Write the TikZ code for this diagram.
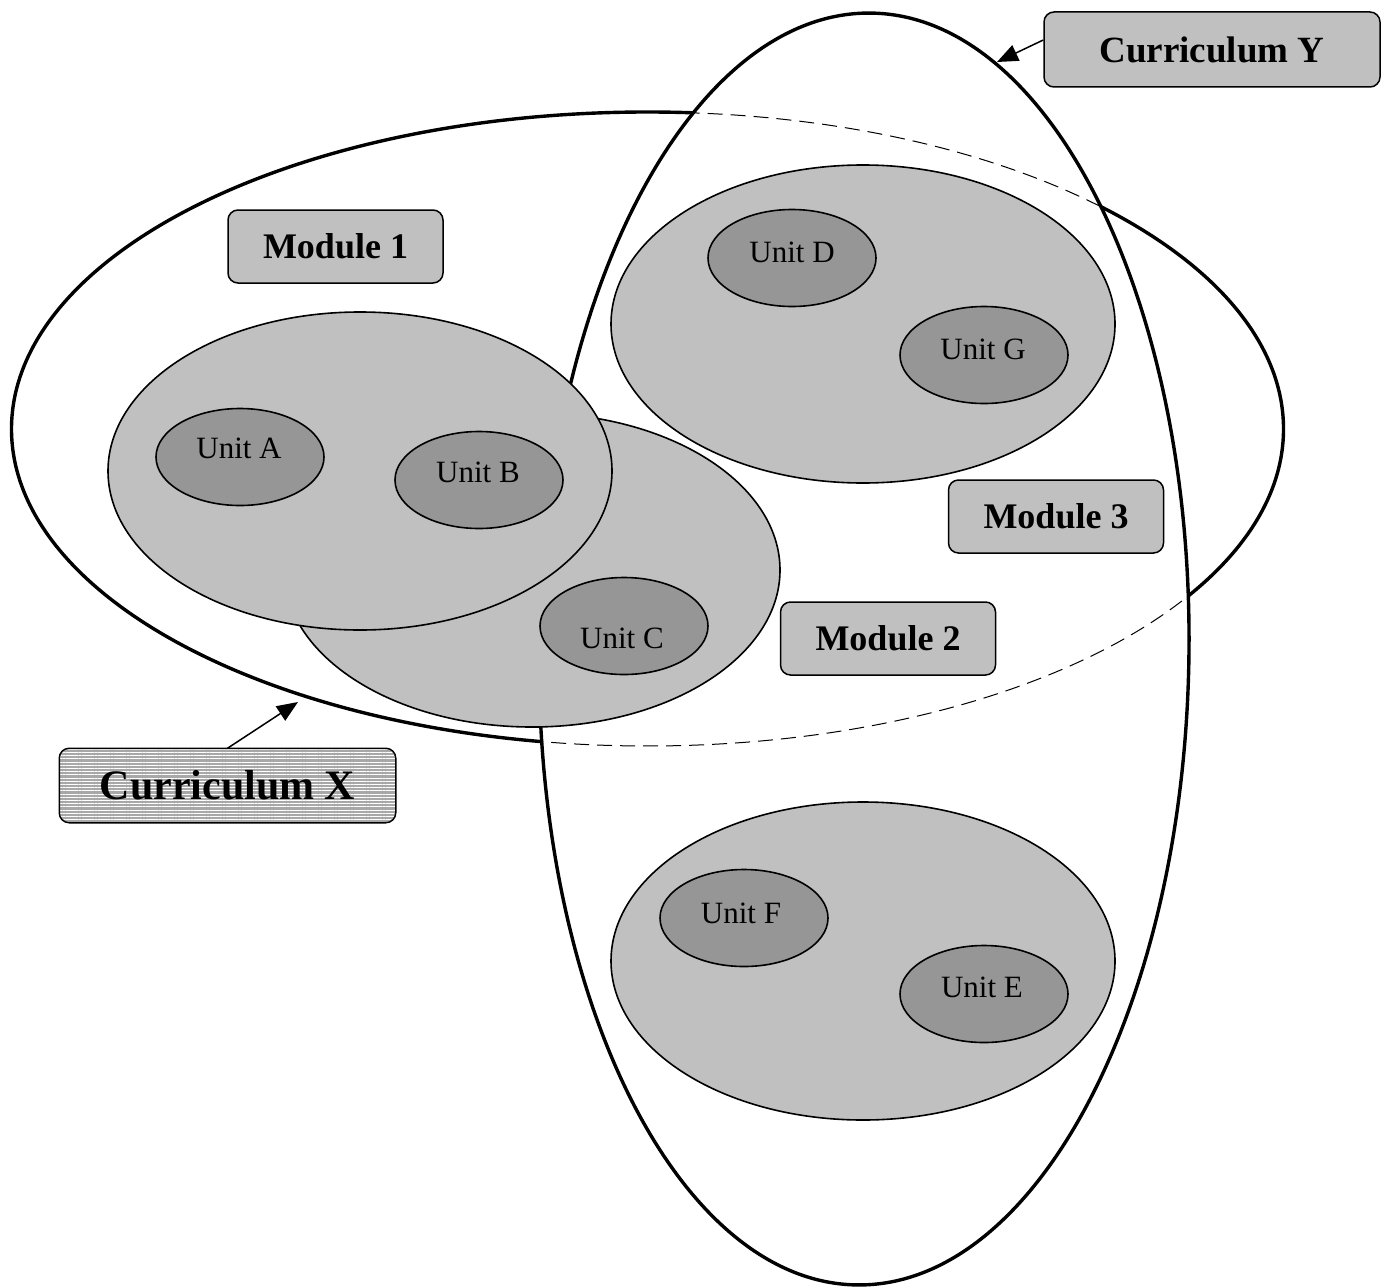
\documentclass[tikz,border=0pt]{standalone}
\usepackage{fontspec}
\setmainfont{Liberation Serif}
\usetikzlibrary{shapes.geometric,arrows.meta,patterns.meta}
\definecolor{modgray}{HTML}{C0C0C0}
\definecolor{unitgray}{HTML}{969696}
\definecolor{hatchgray}{HTML}{A8A8A8}
\begin{document}
\begin{tikzpicture}[x=1pt,y=-1pt,
  modell/.style={ellipse,draw=black,fill=modgray,line width=1.6pt,inner sep=0pt},
  unitell/.style={ellipse,draw=black,fill=unitgray,line width=1.6pt,inner sep=0pt,minimum width=168pt,minimum height=97pt},
  unittext/.style={inner sep=0pt,font=\fontsize{31}{34}\selectfont},
  labbox/.style={draw=black,fill=modgray,rounded corners=10pt,line width=1.5pt,inner sep=0pt,minimum width=215pt,minimum height=73pt,font=\bfseries\fontsize{36}{40}\selectfont},
  curarrow/.style={line width=1.5pt,-{Triangle[length=21pt,width=17pt]}}]
\useasboundingbox (0,0) rectangle (1388,1287);
\fill[white] (0,0) rectangle (1388,1287);
% Curriculum X: solid
\draw[line width=3.4pt] (647.5,429) ellipse [x radius=636, y radius=317];
% blank out inside Y, then dashed X inside Y
\begin{scope}[rotate around={-0.6:(864,649)}]
  \fill[white] (864,649) ellipse [x radius=325, y radius=636];
\end{scope}
\begin{scope}[rotate around={-0.6:(864,649)}]
  \clip (864,649) ellipse [x radius=325, y radius=636];
  \begin{scope}[rotate around={0.6:(864,649)}]
    \draw[line width=1pt,dash pattern=on 15pt off 8pt] (647.5,429) ellipse [x radius=636, y radius=317];
  \end{scope}
\end{scope}
% Curriculum Y
\draw[line width=3.4pt,rotate around={-0.6:(864,649)}] (864,649) ellipse [x radius=325, y radius=636];
\coordinate (xtip) at (298,702);
\coordinate (ytip) at (997,62);
% modules
\node[modell,minimum width=496pt,minimum height=314pt] (mod2) at (532,570) {};
\node[modell,minimum width=504pt,minimum height=318pt] (mod1) at (360,471) {};
\node[modell,minimum width=504pt,minimum height=318pt] (mod3) at (863,324) {};
\node[modell,minimum width=504pt,minimum height=318pt] (mod4) at (863,961) {};
% units
\node[unitell] (uA) at (240,457) {};
\node[unitell] (uB) at (479,480) {};
\node[unitell] (uC) at (624,626) {};
\node[unitell] (uD) at (792,258) {};
\node[unitell] (uG) at (984,355) {};
\node[unitell] (uF) at (744,918) {};
\node[unitell] (uE) at (984,994) {};
\node[unittext] (tA) at (239,448) {Unit A};
\node[unittext] (tB) at (478,472) {Unit B};
\node[unittext] (tC) at (622,638) {Unit C};
\node[unittext] (tD) at (792,252) {Unit D};
\node[unittext] (tG) at (983,349) {Unit G};
\node[unittext] (tF) at (741,913) {Unit F};
\node[unittext] (tE) at (982,987) {Unit E};
% labels
\node[labbox] (lm1) at (335.5,246.5) {Module 1};
\node[labbox] (lm3) at (1056,516.5) {Module 3};
\node[labbox] (lm2) at (888,638.5) {Module 2};
\node[labbox,minimum width=336pt,minimum height=75pt,font=\bfseries\fontsize{37}{40}\selectfont] (lcy) at (1212,49.5) {Curriculum Y};
\node[labbox,draw=none,fill=hatchgray,minimum width=335pt,minimum height=73pt,
  postaction={pattern={Lines[angle=0,distance=3.2pt,line width=1pt]},pattern color=white}] (lcx) at (227.5,785.5) {};
\node[inner sep=0pt,font=\bfseries\fontsize{42}{46}\selectfont] (lcxt) at (lcx.center) {Curriculum X};
\draw[line width=1.5pt,rounded corners=10pt] (lcx.north west) rectangle (lcx.south east);
% arrows
\draw[curarrow] (lcx.north) -- (xtip);
\draw[curarrow] (lcy.west |- 0,40) -- (ytip);
\end{tikzpicture}
\end{document}
